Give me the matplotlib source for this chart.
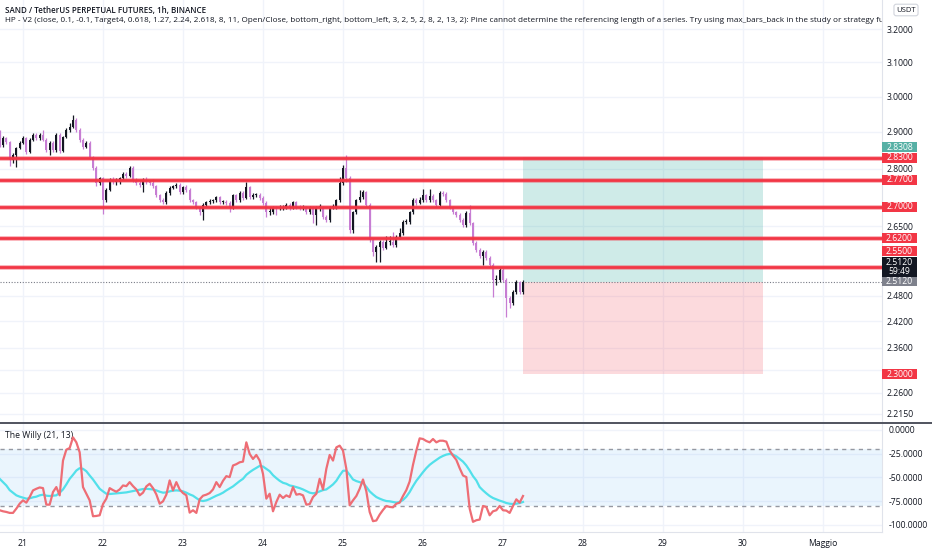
import matplotlib
matplotlib.use('Agg')
import numpy as np
import pandas as pd
import matplotlib.pyplot as plt
import matplotlib.dates as mdates
from matplotlib.patches import Rectangle
from matplotlib.lines import Line2D
from matplotlib.ticker import FixedLocator, NullLocator, FuncFormatter, NullFormatter

plt.rcParams['font.family'] = ['Open Sans', 'DejaVu Sans']

# SAND/USDT 1h candles, 20 Apr 17:00 -> 27 Apr 06:00
first_open = 2.900
closes = [
    2.864, 2.883, 2.872, 2.823, 2.837, 2.856, 2.870, 2.883, 2.845, 2.878,
    2.892, 2.883, 2.892, 2.878, 2.850, 2.870, 2.850, 2.892, 2.848, 2.886,
    2.905, 2.914, 2.933, 2.905, 2.878, 2.859, 2.870, 2.831, 2.802, 2.762,
    2.775, 2.717, 2.744, 2.770, 2.765, 2.765, 2.775, 2.786, 2.781, 2.802,
    2.770, 2.762, 2.757, 2.770, 2.765, 2.762, 2.754, 2.730, 2.717, 2.712,
    2.736, 2.749, 2.754, 2.757, 2.738, 2.751, 2.744, 2.717, 2.712, 2.699,
    2.686, 2.705, 2.712, 2.715, 2.717, 2.725, 2.712, 2.712, 2.710, 2.697,
    2.730, 2.717, 2.736, 2.723, 2.751, 2.725, 2.730, 2.730, 2.723, 2.710,
    2.686, 2.686, 2.699, 2.697, 2.697, 2.697, 2.705, 2.697, 2.712, 2.699,
    2.697, 2.697, 2.686, 2.699, 2.679, 2.699, 2.699, 2.674, 2.666, 2.699,
    2.699, 2.717, 2.762, 2.802, 2.775, 2.641, 2.686, 2.717, 2.725, 2.738,
    2.705, 2.616, 2.586, 2.598, 2.611, 2.596, 2.611, 2.611, 2.603, 2.623,
    2.633, 2.661, 2.661, 2.686, 2.717, 2.710, 2.717, 2.730, 2.717, 2.728,
    2.717, 2.705, 2.736, 2.733, 2.717, 2.699, 2.686, 2.679, 2.666, 2.653,
    2.684, 2.658, 2.608, 2.591, 2.576, 2.586, 2.571, 2.554, 2.517, 2.517,
    2.542, 2.517, 2.474, 2.462, 2.489, 2.512, 2.489, 2.512,
]
highs = [
    2.905, 2.888, 2.887, 2.876, 2.842, 2.860, 2.874, 2.888, 2.886, 2.882,
    2.897, 2.897, 2.896, 2.905, 2.882, 2.875, 2.874, 2.896, 2.896, 2.890,
    2.910, 2.925, 2.947, 2.938, 2.910, 2.882, 2.874, 2.874, 2.835, 2.806,
    2.779, 2.779, 2.748, 2.775, 2.779, 2.776, 2.779, 2.790, 2.792, 2.806,
    2.806, 2.775, 2.766, 2.774, 2.778, 2.770, 2.772, 2.758, 2.734, 2.722,
    2.740, 2.753, 2.758, 2.761, 2.761, 2.755, 2.757, 2.748, 2.721, 2.716,
    2.703, 2.709, 2.716, 2.719, 2.721, 2.729, 2.729, 2.718, 2.717, 2.714,
    2.734, 2.734, 2.740, 2.740, 2.765, 2.755, 2.736, 2.736, 2.735, 2.727,
    2.714, 2.700, 2.703, 2.703, 2.705, 2.704, 2.709, 2.710, 2.716, 2.716,
    2.704, 2.704, 2.701, 2.703, 2.703, 2.703, 2.706, 2.703, 2.679, 2.703,
    2.707, 2.721, 2.778, 2.810, 2.837, 2.780, 2.690, 2.721, 2.744, 2.744,
    2.742, 2.709, 2.620, 2.603, 2.616, 2.615, 2.625, 2.625, 2.636, 2.627,
    2.645, 2.665, 2.668, 2.690, 2.722, 2.722, 2.725, 2.746, 2.734, 2.746,
    2.732, 2.721, 2.740, 2.741, 2.737, 2.721, 2.703, 2.690, 2.683, 2.670,
    2.688, 2.705, 2.662, 2.612, 2.595, 2.590, 2.590, 2.575, 2.558, 2.530,
    2.546, 2.546, 2.521, 2.478, 2.493, 2.517, 2.516, 2.517,
]
lows = [
    2.858, 2.860, 2.868, 2.806, 2.815, 2.804, 2.852, 2.866, 2.840, 2.842,
    2.874, 2.879, 2.879, 2.874, 2.845, 2.837, 2.846, 2.846, 2.843, 2.844,
    2.882, 2.900, 2.910, 2.900, 2.872, 2.852, 2.855, 2.826, 2.797, 2.755,
    2.757, 2.682, 2.712, 2.740, 2.760, 2.758, 2.760, 2.771, 2.776, 2.777,
    2.765, 2.757, 2.751, 2.738, 2.760, 2.757, 2.749, 2.725, 2.712, 2.706,
    2.708, 2.731, 2.745, 2.750, 2.734, 2.734, 2.739, 2.712, 2.707, 2.694,
    2.680, 2.666, 2.700, 2.708, 2.710, 2.713, 2.707, 2.706, 2.705, 2.686,
    2.693, 2.712, 2.713, 2.718, 2.719, 2.720, 2.720, 2.724, 2.718, 2.705,
    2.674, 2.680, 2.681, 2.679, 2.692, 2.691, 2.693, 2.692, 2.693, 2.695,
    2.692, 2.691, 2.681, 2.682, 2.658, 2.653, 2.690, 2.669, 2.661, 2.662,
    2.694, 2.695, 2.712, 2.757, 2.765, 2.633, 2.633, 2.682, 2.713, 2.721,
    2.700, 2.611, 2.576, 2.561, 2.561, 2.591, 2.592, 2.604, 2.598, 2.598,
    2.618, 2.628, 2.655, 2.656, 2.682, 2.705, 2.706, 2.712, 2.712, 2.713,
    2.712, 2.700, 2.701, 2.728, 2.712, 2.694, 2.681, 2.674, 2.661, 2.648,
    2.648, 2.653, 2.603, 2.586, 2.571, 2.554, 2.566, 2.549, 2.477, 2.505,
    2.512, 2.512, 2.430, 2.452, 2.457, 2.484, 2.484, 2.484,
]

# The Willy (21, 13): %R line and its average
willy = [
    -84.5, -85.6, -86.3, -87.3, -87.3, -82.8, -77.6, -74.1, -76.5, -70.6,
    -63.6, -61.9, -60.5, -61.2, -78.6, -78.6, -65.3, -60.1, -68.8, -32.2,
    -20.7, -19.0, -7.8, -13.0, -23.5, -60.1, -67.1, -74.1, -90.8, -90.5,
    -89.8, -78.0, -72.3, -61.2, -63.3, -65.0, -62.6, -58.4, -59.1, -54.9,
    -59.1, -62.6, -68.8, -66.0, -59.4, -56.6, -61.2, -67.8, -77.6, -75.1,
    -68.1, -53.1, -63.6, -54.9, -62.6, -66.4, -68.8, -87.0, -84.5, -87.3,
    -73.0, -69.2, -68.1, -66.4, -62.6, -54.9, -60.1, -53.5, -48.6, -49.6,
    -37.4, -36.0, -34.0, -33.3, -13.0, -25.2, -30.5, -26.3, -32.2, -46.2,
    -72.3, -67.1, -85.6, -75.8, -68.1, -71.6, -68.8, -70.6, -60.1, -68.1,
    -67.4, -68.8, -78.6, -78.0, -70.6, -67.1, -51.4, -62.6, -40.9, -26.3,
    -32.2, -18.3, -16.5, -21.7, -40.9, -79.3, -74.1, -69.5, -61.9, -52.1,
    -64.6, -86.3, -96.0, -95.3, -89.1, -84.2, -80.0, -81.0, -81.4, -77.6,
    -76.5, -69.5, -63.3, -54.2, -36.7, -21.7, -8.8, -9.5, -11.6, -13.0,
    -9.5, -13.0, -11.3, -11.3, -12.3, -21.7, -27.0, -31.5, -40.2, -47.9,
    -49.6, -82.8, -96.7, -95.0, -94.3, -80.0, -81.0, -89.8, -85.6, -84.5,
    -80.0, -84.5, -84.9, -87.3, -80.0, -73.0, -76.5, -69.5,
]
willy_ema = [
    -51.4, -54.9, -58.4, -63.3, -66.0, -68.8, -70.2, -71.3, -72.3, -71.9,
    -70.9, -70.2, -68.8, -68.1, -69.2, -69.5, -69.2, -68.8, -66.0, -62.6,
    -57.3, -51.4, -47.2, -42.7, -40.2, -40.9, -43.4, -47.9, -52.1, -57.0,
    -61.9, -64.6, -67.1, -67.4, -67.1, -66.7, -66.4, -66.0, -65.7, -65.0,
    -64.3, -63.6, -62.9, -62.2, -61.9, -62.2, -62.6, -63.6, -65.0, -66.0,
    -65.7, -64.6, -63.9, -63.6, -63.9, -64.6, -66.0, -67.8, -69.2, -71.6,
    -74.1, -74.8, -74.1, -72.7, -70.9, -69.2, -67.8, -66.0, -63.6, -61.5,
    -59.4, -56.6, -53.8, -51.4, -47.2, -44.4, -42.0, -39.9, -37.8, -38.5,
    -40.9, -43.4, -47.6, -50.7, -53.5, -55.6, -56.6, -58.4, -59.1, -60.1,
    -61.2, -62.6, -64.3, -66.0, -66.7, -66.0, -64.6, -63.3, -62.6, -60.1,
    -57.3, -53.5, -47.9, -43.0, -42.7, -47.2, -52.1, -53.8, -54.9, -56.0,
    -59.8, -64.6, -67.8, -70.6, -72.3, -73.7, -74.8, -75.1, -75.8, -76.5,
    -75.8, -73.7, -70.2, -65.3, -59.1, -53.5, -49.0, -44.4, -40.2, -36.7,
    -34.0, -31.5, -29.1, -27.3, -25.9, -25.2, -25.9, -27.7, -30.5, -33.3,
    -37.4, -42.7, -48.6, -53.1, -60.1, -63.6, -66.7, -69.5, -71.6, -73.0,
    -74.4, -75.5, -76.9, -77.6, -77.9, -77.6, -76.9, -75.8,
]

levels = [2.83, 2.77, 2.70, 2.62, 2.55]
entry, target, stop = 2.512, 2.8308, 2.30
price_ticks = [3.2, 3.1, 3.0, 2.9, 2.8, 2.65, 2.48, 2.42, 2.36, 2.26, 2.215]
hidden_grid = [2.31]   # tick sitting under the 2.3000 tag
willy_ticks = [0, -25, -50, -75, -100]
day_labels = ['21', '22', '23', '24', '25', '26', '27', '28', '29', '30', 'Maggio']

W, H = 932, 550
TXT = '#131722'
GRID = '#f0f3fa'
UP, DOWN = '#131722', '#c77dd3'

times = pd.date_range('2022-04-20 17:00', periods=len(closes), freq='h')
t = mdates.date2num(times)
opens = np.array([first_open] + closes[:-1])
c = np.array(closes)
up = c >= opens
cols = np.where(up, UP, DOWN)
days = mdates.date2num(pd.date_range('2022-04-21', periods=len(day_labels), freq='D'))
x0 = mdates.date2num(pd.Timestamp('2022-04-20 17:06'))
x1 = mdates.date2num(pd.Timestamp('2022-05-01 17:42'))
box0 = mdates.date2num(pd.Timestamp('2022-04-27 06:00'))
box1 = mdates.date2num(pd.Timestamp('2022-04-30 06:00'))

fig = plt.figure(figsize=(W / 100, H / 100), dpi=100)
ax = fig.add_axes([0, 1 - 422 / H, 882 / W, 422 / H])
ax2 = fig.add_axes([0, 18 / H, 882 / W, 108 / H])

# ---- price panel
ax.set_yscale('log')
ax.set_xlim(x0, x1)
ax.set_ylim(2.1978, 3.290)
ax.yaxis.set_major_locator(FixedLocator(price_ticks))
ax.yaxis.set_minor_locator(FixedLocator(hidden_grid))
ax.yaxis.set_minor_formatter(NullFormatter())
ax.yaxis.set_major_formatter(FuncFormatter(lambda v, p: f'{v:.4f}'))
ax.yaxis.tick_right()
ax.tick_params(axis='y', which='both', length=0, pad=3, labelsize=6.2, labelcolor=TXT)
ax.set_xticks(days)
ax.tick_params(axis='x', length=0, labelbottom=False)
ax.grid(True, which='both', color=GRID, lw=1)
ax.set_axisbelow(True)
for s in ['top', 'left', 'bottom']:
    ax.spines[s].set_visible(False)
ax.spines['right'].set_color('#e0e3eb')

ax.fill_between([box0, box1], entry, target, color='#26a69a', alpha=0.22, lw=0, zorder=1)
ax.fill_between([box0, box1], stop, entry, color='#f23645', alpha=0.18, lw=0, zorder=1)

bw = 0.62 / 24
ax.vlines(t, lows, highs, colors=cols, lw=0.9, zorder=2)
body_lo = np.minimum(opens, c)
body_h = np.maximum(np.abs(c - opens), 0.0025)
ax.bar(t, body_h, bottom=body_lo, width=bw, color=cols, lw=0, zorder=3)

ax.axhline(entry, color='#787b86', lw=0.8, ls=(0, (1, 1.5)), zorder=2)
for lv in levels:
    ax.axhline(lv, color='#f23645', lw=3.6, alpha=0.35, zorder=4)
    ax.axhline(lv, color='#f23645', lw=2.0, zorder=5)

ax.text(5 / 882, 1 - 10 / 422, 'SAND / TetherUS PERPETUAL FUTURES, 1h, BINANCE',
        transform=ax.transAxes, fontsize=5.8, color=TXT, va='center', fontweight='semibold')
ax.text(5 / 882, 1 - 20.5 / 422,
        'HP - V2 (close, 0.1, -0.1, Target4, 0.618, 1.27, 2.24, 2.618, 8, 11, Open/Close, '
        'bottom_right, bottom_left, 3, 2, 5, 2, 8, 2, 13, 2): Pine cannot determine the referencing '
        'length of a series. Try using max_bars_back in the study or strategy function',
        transform=ax.transAxes, fontsize=5.85, color=TXT, va='center', clip_on=True)

# ---- Willy panel
ax2.set_xlim(x0, x1)
ax2.set_ylim(-107.4, 6.3)
ax2.axhspan(-80, -20, color='#2196f3', alpha=0.09, lw=0, zorder=1)
ax2.axhline(-20, color='#9598a1', lw=1, ls=(0, (3, 3)), zorder=2)
ax2.axhline(-80, color='#9598a1', lw=1, ls=(0, (3, 3)), zorder=2)
ax2.plot(t, willy, color='#ee6d75', lw=1.6, zorder=4)
ax2.plot(t, willy_ema, color='#52e0ea', lw=1.6, zorder=3)
ax2.yaxis.set_major_locator(FixedLocator(willy_ticks))
ax2.yaxis.set_major_formatter(FuncFormatter(lambda v, p: f'{v:.4f}'))
ax2.yaxis.tick_right()
ax2.tick_params(axis='y', length=0, pad=5, labelsize=6.2, labelcolor=TXT)
ax2.set_xticks(days)
ax2.set_xticklabels(day_labels)
ax2.tick_params(axis='x', length=0, pad=5, labelsize=6.2, labelcolor=TXT)
ax2.grid(True, color=GRID, lw=1)
ax2.set_axisbelow(True)
ax2.spines['left'].set_visible(False)
ax2.spines['top'].set_visible(False)
ax2.spines['right'].set_color('#e0e3eb')
ax2.spines['bottom'].set_color('#e0e3eb')
ax2.text(5 / 882, (532 - 435) / 108, 'The Willy (21, 13)', transform=ax2.transAxes,
         fontsize=6.2, color=TXT, va='center')

# panel separator
fig.lines.append(Line2D([0, 1], [1 - 423 / H, 1 - 423 / H], transform=fig.transFigure,
                        color='#50535e', lw=1.4))


def price_tag(text, price, face, dy=0, h=10):
    y = ax.transData.transform((x0, price))[1] + dy
    fig.patches.append(Rectangle((882 / W, (y - h / 2) / H), 35 / W, h / H,
                                 transform=fig.transFigure, facecolor=face,
                                 edgecolor='none', zorder=5))
    fig.text(899.5 / W, y / H, text, ha='center', va='center', color='white',
             fontsize=6.2, zorder=6, linespacing=1.05)


price_tag('2.8308', target, '#56b0a5', dy=10)
price_tag('2.8300', 2.83, '#f23645')
price_tag('2.7700', 2.77, '#f23645')
price_tag('2.7000', 2.70, '#f23645')
price_tag('2.6200', 2.62, '#f23645')
price_tag('2.5500', 2.55, '#f23645', dy=15.5)
price_tag('2.5120\n59:49', entry, '#131722', dy=15, h=20)
price_tag('2.5120', entry, '#7e818c', dy=1, h=9)
price_tag('2.3000', stop, '#f23645')

fig.text(906 / W, 1 - 10 / H, 'USDT', fontsize=5.5, color=TXT, ha='center', va='center',
         bbox=dict(boxstyle='round,pad=0.3', fc='white', ec='#d1d4dc', lw=0.8))

fig.savefig('out.png', dpi=100)
